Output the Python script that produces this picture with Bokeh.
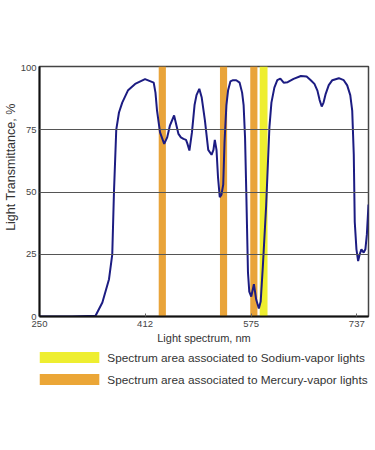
from bokeh.plotting import figure
from bokeh.layouts import column
from bokeh.models import Range1d, FixedTicker, Label
from bokeh.embed import file_html
from bokeh.resources import INLINE

# Transmittance curve (nm, %)
wavelength = [250, 300, 336, 346.5, 356.7, 361.7, 364.3, 367.8, 372, 377, 386, 396.8, 412, 425.3, 428,
              430.3, 435, 441.4, 446, 450.1, 456.6, 463.3, 467, 471, 474.9, 477, 480.1, 484, 488, 491,
              495.3, 499, 503.9, 509, 514.1, 517, 519.1, 521.7, 524, 526.7, 529.3, 532, 534, 536.9, 539.5,
              543, 547.1, 552, 557.2, 561, 563.3, 565.5, 567.4, 570, 572, 575, 579.1, 582.6, 586.7,
              589.5, 592.8, 597.9, 602.9, 606, 610.5, 615, 619.7, 624.8, 630.9, 640, 651.2, 660, 666.4,
              672, 676.6, 680, 683.2, 686, 689.3, 694, 699.5, 709.5, 717, 722.3, 727, 730, 732.4, 733.9,
              736.5, 739.1, 741.5, 744.1, 747.6, 750.2, 752.5, 755]
transmittance = [0, 0, 0.3, 5.6, 15, 25, 50, 75, 82, 86, 91, 93.5, 95.4, 94, 90,
                 83, 74, 69.4, 72, 76.7, 80.8, 73.4, 72, 71.4, 71, 69.5, 66.7, 74, 85, 89,
                 91.5, 88, 78.8, 67, 65, 67, 71, 67, 56, 48, 49, 53, 70, 85, 91,
                 94.5, 95, 95, 94, 90, 85, 72, 50, 17.7, 10, 8, 13, 6.8, 3.2,
                 6, 20, 44.5, 76, 86, 92, 95, 95.6, 94, 94.2, 95.5, 96.7, 96.5, 95,
                 93.5, 90.8, 87, 84.4, 86, 89.5, 93, 95, 95.8, 95, 92.9, 89, 82.8, 65, 38,
                 27, 22.3, 25, 27, 25.7, 27, 33, 45]

# Highlighted spectrum bands (nm)
mercury_centers = [438.5, 532.5, 579]
mercury_width = 11
sodium_centers = [594]
sodium_width = 12

legend_labels = ["Spectrum area associated to Sodium-vapor lights",
                 "Spectrum area associated to Mercury-vapor lights"]
legend_colors = ["#eeee30", "#eba637"]
x_ticks = [250, 412, 575, 737]
y_ticks = [0, 25, 50, 75, 100]
x_title = "Light spectrum, nm"
y_title = "Light Transmittance, %"

MERCURY = "#e9a43a"
SODIUM = "#eeee30"
W = 375

p = figure(width=W, height=346, output_backend="svg", toolbar_location=None,
           x_range=Range1d(250, 755), y_range=Range1d(0, 100.5),
           min_border_top=66, min_border_left=0, min_border_right=7, min_border_bottom=4)

p.vbar(x=mercury_centers, width=mercury_width, top=100.5, bottom=0,
       fill_color=MERCURY, line_color=None, level="underlay")
p.vbar(x=sodium_centers, width=sodium_width, top=100.5, bottom=0,
       fill_color=SODIUM, line_color=None, level="underlay")

p.line(wavelength, transmittance, line_color="#1c1c82", line_width=2)

p.xgrid.visible = False
p.ygrid.ticker = FixedTicker(ticks=[25, 50, 75])
p.ygrid.grid_line_color = "#555555"
p.ygrid.grid_line_width = 1.2
p.ygrid.level = "guide"

p.outline_line_color = "#444444"
p.outline_line_width = 1.5

p.xaxis.ticker = FixedTicker(ticks=x_ticks)
p.yaxis.ticker = FixedTicker(ticks=y_ticks)
for ax in (p.xaxis, p.yaxis):
    ax.axis_line_color = "#111111"
    ax.axis_line_width = 2
    ax.major_label_text_font = "Liberation Sans"
    ax.major_label_text_font_size = "9.5px"
    ax.major_label_text_color = "#444444"
    ax.axis_label_text_font = "Liberation Sans"
    ax.axis_label_text_font_size = "11px"
    ax.axis_label_text_font_style = "normal"
    ax.axis_label_text_color = "#333333"
    ax.minor_tick_line_color = None

p.xaxis.major_tick_in = 3
p.xaxis.major_tick_out = 0
p.xaxis.major_tick_line_color = "#666666"
p.yaxis.major_tick_line_color = None
p.yaxis.major_tick_in = 0
p.yaxis.major_tick_out = 0
p.xaxis.major_label_standoff = 4
p.yaxis.major_label_standoff = 3
p.xaxis.axis_label = x_title
p.xaxis.axis_label_standoff = 2
# leading no-break spaces lift the title above the frame centre, as in the reference
p.yaxis.axis_label = "\u00a0" * 14 + y_title
p.yaxis.axis_label_text_font_size = "12.5px"
p.yaxis.axis_label_standoff = 0

# Legend panel; its frame is aligned with the chart frame, coordinates in px from frame left / top
LH = 56
lg = figure(width=W, height=LH, output_backend="svg", toolbar_location=None,
            x_range=Range1d(0, 330), y_range=Range1d(LH, 0),
            min_border=0, min_border_left=0, min_border_right=0)
lg.axis.visible = False
lg.grid.visible = False
lg.outline_line_color = None
row_y = [11, 33]
lg.quad(left=[0, 0], right=[60, 60], top=[y - 5.5 for y in row_y], bottom=[y + 5.5 for y in row_y],
        fill_color=legend_colors, line_color=None)
for lbl, y in zip(legend_labels, row_y):
    lg.add_layout(Label(x=68, y=y, text=lbl, text_baseline="middle", text_align="left",
                        text_font="Liberation Sans", text_font_size="11.8px", text_color="#333333"))

layout = column(p, lg, spacing=0)
open("out.html", "w").write(file_html(layout, INLINE))
